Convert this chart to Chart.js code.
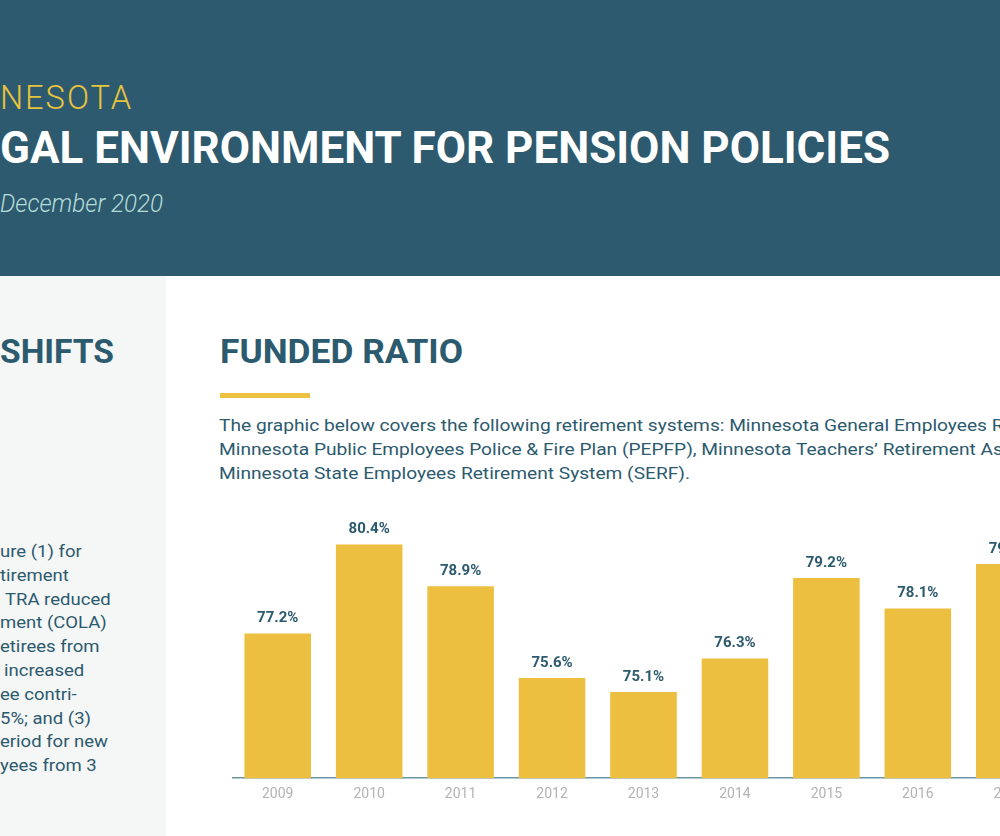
<!DOCTYPE html>
<html>
<head>
<meta charset="utf-8">
<script src="https://cdn.jsdelivr.net/npm/chart.js@4.4.1/dist/chart.umd.min.js"></script>
<style>
  html, body { margin:0; padding:0; width:1000px; height:836px; overflow:hidden; background:#ffffff; font-family: Roboto, "Noto Sans", sans-serif; }
  .hdr { position:absolute; left:0; top:0; width:1000px; height:276px; background:#2d5a6e; }
  .panel { position:absolute; left:0; top:276px; width:166px; height:560px; background:#f5f6f6; }
  .t { position:absolute; white-space:nowrap; transform-origin:0 50%; line-height:1; }
  .bar { position:absolute; left:220px; top:393px; width:90px; height:5px; background:#ecc240; }
  #chartBox { position:absolute; left:232px; top:500px; width:823px; height:311px; }
</style>
</head>
<body>
<div class="hdr"></div>
<div class="panel"></div>

<div class="t" data-w="133" style="left:0; top:97px; font-size:33px; font-weight:300; color:#e8c43c; letter-spacing:2px; transform:translateY(-50%);">NESOTA</div>
<div class="t" data-w="890" style="left:0; top:148px; font-size:44px; font-weight:700; color:#ffffff; transform:translateY(-50%);">GAL ENVIRONMENT FOR PENSION POLICIES</div>
<div class="t" data-w="163" style="left:0; top:203px; font-size:26px; font-weight:300; font-style:italic; color:#b4dcd8; transform:translateY(-50%);">December 2020</div>

<div class="t" data-w="114" style="left:0; top:351px; font-size:34px; font-weight:700; color:#2c5a6e; transform:translateY(-50%);">SHIFTS</div>
<div class="t" data-w="243" style="left:220px; top:351px; font-size:34px; font-weight:700; color:#2c5a6e; transform:translateY(-50%);">FUNDED RATIO</div>
<div class="bar"></div>

<div id="para"></div>
<div id="side"></div>

<div id="chartBox"><canvas id="c"></canvas></div>

<script>
const categories = ["2009","2010","2011","2012","2013","2014","2015","2016","2017"];
const fundedRatio = [77.2, 80.4, 78.9, 75.6, 75.1, 76.3, 79.2, 78.1, 79.7];
const valueLabels = ["77.2%","80.4%","78.9%","75.6%","75.1%","76.3%","79.2%","78.1%","79.7%"];

const paraLines = [
  "The graphic below covers the following retirement systems: Minnesota General Employees Retirement Fund (GERF),",
  "Minnesota Public Employees Police & Fire Plan (PEPFP), Minnesota Teachers\u2019 Retirement Association (TRA), and",
  "Minnesota State Employees Retirement System (SERF)."
];
const sideLines = [
  ["ure (1) for",0],["tirement",0],["TRA reduced",5],["ment (COLA)",0],["etirees from",0],
  ["increased",4],["ee contri-",0],["5%; and (3)",0],["eriod for new",0],["yees from 3",0]
];

const para = document.getElementById('para');
paraLines.forEach((s,i)=>{
  const d=document.createElement('div'); d.className='t'; d.textContent=s;
  d.style.cssText=`left:219px; top:${425+i*24}px; font-size:17px; font-weight:400; color:#2c5a6e;`;
  para.appendChild(d);
});
const side = document.getElementById('side');
sideLines.forEach((s,i)=>{
  const d=document.createElement('div'); d.className='t'; d.textContent=s[0];
  d.style.cssText=`left:${s[1]}px; top:${551+i*23.8}px; font-size:17px; font-weight:400; color:#2c5a6e;`;
  side.appendChild(d);
});

function fit(){
  document.querySelectorAll('[data-w]').forEach(el=>{
    el.style.transform='';
    const w = el.getBoundingClientRect().width;
    const sc = (+el.dataset.w)/w;
    el.style.transform = `translateY(-50%) scaleX(${sc})`;
  });
  const pl = para.querySelectorAll('.t');
  const w3 = pl[2].getBoundingClientRect().width;
  const sp = 471/w3;
  pl.forEach(el=>el.style.transform=`translateY(-50%) scaleX(${sp})`);
  const sl = side.querySelectorAll('.t');
  const ws = sl[8].getBoundingClientRect().width;
  const ss = 108/ws;
  sl.forEach(el=>el.style.transform=`translateY(-50%) scaleX(${ss})`);
}
fit();

const labelPlugin = {
  id:'valueLabels',
  afterDatasetsDraw(chart){
    const ctx=chart.ctx;
    const meta=chart.getDatasetMeta(0);
    ctx.save();
    ctx.font='700 15px Roboto, sans-serif';
    ctx.fillStyle='#2c5a6e';
    ctx.textAlign='center';
    ctx.textBaseline='middle';
    meta.data.forEach((bar,i)=>{
      ctx.fillText(valueLabels[i], bar.x, bar.y-15);
    });
    ctx.restore();
  }
};

new Chart(document.getElementById('c'), {
  type:'bar',
  data:{
    labels:categories,
    datasets:[{
      data:fundedRatio,
      backgroundColor:'#ecbf40',
      borderWidth:0,
      categoryPercentage:1.0,
      barPercentage:0.728
    }]
  },
  options:{
    responsive:true,
    maintainAspectRatio:false,
    animation:false,
    layout:{padding:0},
    plugins:{legend:{display:false}, tooltip:{enabled:false}},
    scales:{
      y:{display:false, min:72, max:82},
      x:{
        grid:{display:false, drawTicks:false},
        border:{display:true, color:'#6a94a4', width:1.5},
        ticks:{color:'#b3b3b3', padding:8, font:{family:'Roboto, sans-serif', size:14}}
      }
    }
  },
  plugins:[labelPlugin]
});
</script>
</body>
</html>
